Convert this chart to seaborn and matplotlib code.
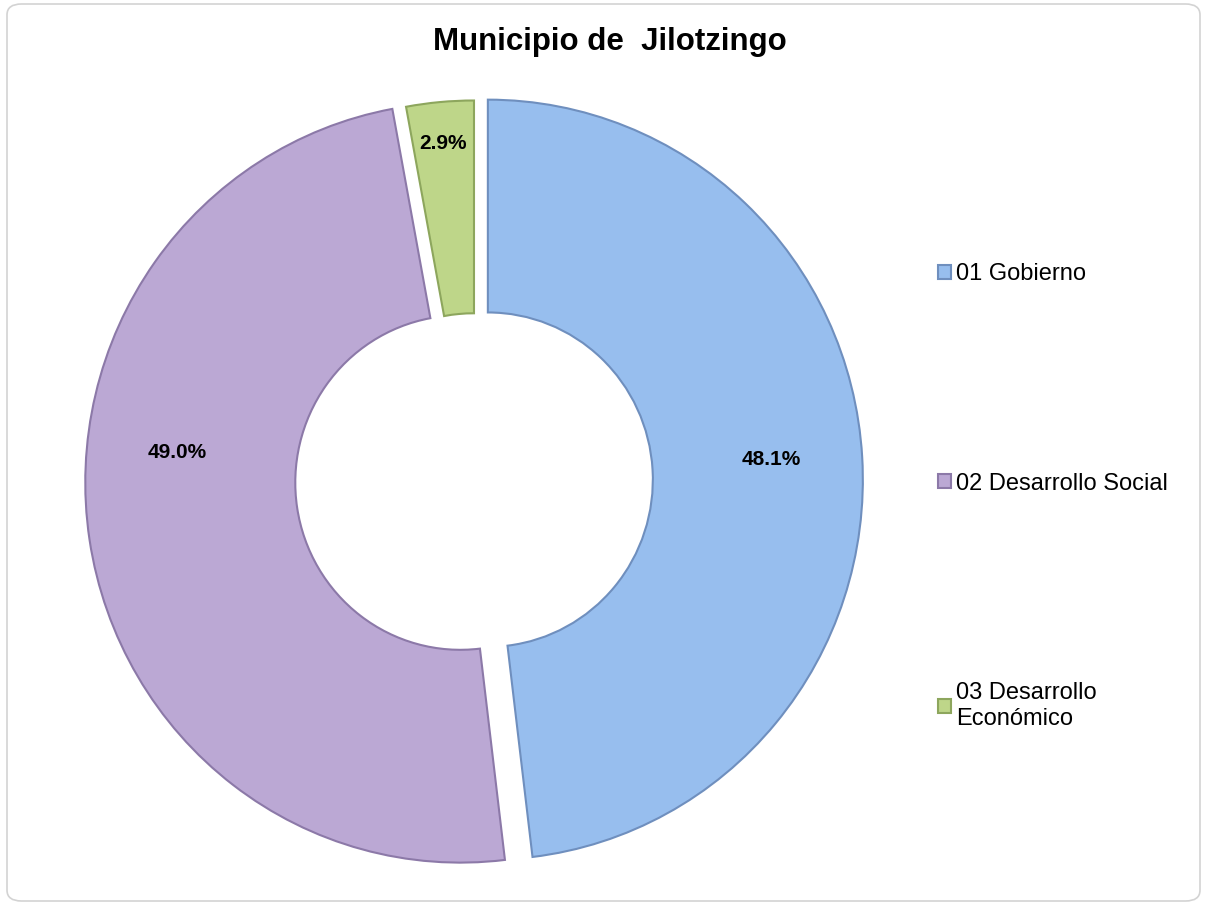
import matplotlib
matplotlib.use("Agg")
import matplotlib.pyplot as plt
from matplotlib.patches import FancyBboxPatch
import seaborn as sns

# --- DATA ---
categories = ["01 Gobierno", "02 Desarrollo Social", "03 Desarrollo\nEconómico"]
shares = [48.1, 49.0, 2.9]
title = "Municipio de  Jilotzingo"

# --- STYLE ---
sns.set_theme(style="white")
plt.rcParams["font.family"] = ["Liberation Sans", "DejaVu Sans"]
fills = sns.color_palette(["#97BEEE", "#BBA8D4", "#BED689"])
edges = ["#6F8FBE", "#8C79A8", "#8DA65D"]
explode = [0.037, 0.037, 0.0]
# label spots (pie units), Excel put them a bit off the mid-angle
label_xy = [(0.792, 0.054), (-0.792, 0.075), (-0.083, 0.888)]

fig = plt.figure(figsize=(12.06, 9.05), dpi=100)
fig.patch.set_facecolor("white")

# rounded chart-area border
fig.patches.append(FancyBboxPatch((7 / 1206, 4 / 905), 1193 / 1206, 897 / 905,
                                  boxstyle="round,pad=0,rounding_size=0.012",
                                  transform=fig.transFigure, facecolor="none",
                                  edgecolor="#D3D3D3", lw=1.2))

ax = fig.add_axes([5.25 / 1206, 6.5 / 905, 937.5 / 1206, 836 / 905])
wedges, _ = ax.pie(shares, startangle=90, counterclock=False, explode=explode,
                   colors=fills, wedgeprops=dict(width=0.56, linewidth=1.5))
for w, ec in zip(wedges, edges):
    w.set_edgecolor(ec)
ax.set_aspect("auto")
ax.set_xlim(-1.25, 1.25)
ax.set_ylim(-1.1, 1.1)
ax.axis("off")

for v, (x, y) in zip(shares, label_xy):
    ax.text(x, y, f"{v:.1f}%", ha="center", va="center",
            fontsize=15, fontweight="bold", color="black")

fig.text(610 / 1206, 1 - 50 / 905, title, ha="center", va="baseline",
         fontsize=22.5, fontweight="bold", color="black")

ax.legend(wedges, categories, loc="upper left",
          bbox_to_anchor=(938 / 1206, 1 - 263 / 905), bbox_transform=fig.transFigure,
          frameon=False, fontsize=17, labelspacing=7.95, handlelength=0.55,
          handleheight=0.55, handletextpad=0.2, borderpad=0, borderaxespad=0,
          labelcolor="black")

fig.savefig("out.png", dpi=100)
